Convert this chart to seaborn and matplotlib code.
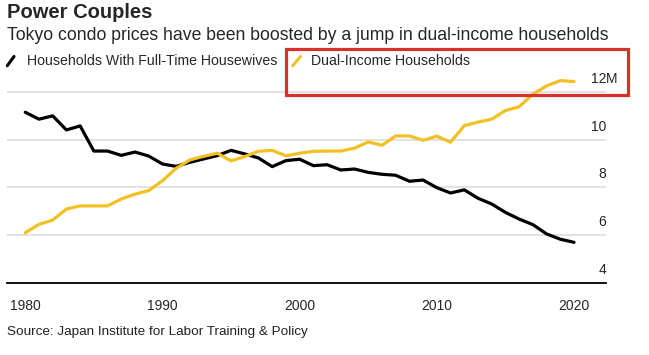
import matplotlib
matplotlib.use("Agg")
import numpy as np
import pandas as pd
import matplotlib.pyplot as plt
import matplotlib.transforms as mtransforms
from matplotlib.lines import Line2D
from matplotlib.patches import Rectangle
import seaborn as sns

# values in millions of households
years = list(range(1980, 2021))
housewives = [11.14, 10.85, 10.99, 10.40, 10.57, 9.52, 9.52, 9.34, 9.48, 9.31,
              8.98, 8.88, 9.05, 9.19, 9.33, 9.55, 9.40, 9.23, 8.87, 9.12,
              9.18, 8.91, 8.95, 8.73, 8.77, 8.63, 8.55, 8.51, 8.26, 8.31,
              7.99, 7.77, 7.90, 7.55, 7.31, 6.96, 6.68, 6.45, 6.06, 5.84, 5.71]
dual_income = [6.11, 6.46, 6.64, 7.10, 7.23, 7.23, 7.23, 7.52, 7.72, 7.87,
               8.28, 8.80, 9.15, 9.30, 9.43, 9.11, 9.29, 9.51, 9.55, 9.32,
               9.43, 9.51, 9.52, 9.52, 9.64, 9.90, 9.76, 10.15, 10.15, 9.97,
               10.14, 9.89, 10.58, 10.73, 10.85, 11.21, 11.37, 11.89, 12.24, 12.46, 12.42]
series_names = ["Households With Full-Time Housewives", "Dual-Income Households"]
x_ticks = [1980, 1990, 2000, 2010, 2020]
y_ticks = [4, 6, 8, 10, 12]
y_labels = ["4", "6", "8", "10", "12"]

colors = {series_names[0]: "#000000", series_names[1]: "#f2c022"}

df = pd.DataFrame({
    "year": years * 2,
    "households": housewives + dual_income,
    "series": [series_names[0]] * len(years) + [series_names[1]] * len(years),
})

sns.set_style("white")
plt.rcParams["font.family"] = ["Liberation Sans", "DejaVu Sans"]

W, H = 649, 355
fig = plt.figure(figsize=(W / 100, H / 100), dpi=100)
ax = fig.add_axes([7 / W, 1 - 283.3 / H, (606 - 7) / W, (283.3 - 66) / H])

sns.lineplot(data=df, x="year", y="households", hue="series", palette=colors,
             linewidth=2.3, legend=False, ax=ax, zorder=3)

ax.set_xlim(1978.67, 2022.33)
ax.set_ylim(4, 13.07)
ax.set_xticks(x_ticks)
ax.set_yticks(y_ticks)
ax.yaxis.grid(True, color="#e2e2e2", lw=1.4)
ax.xaxis.grid(False)
ax.tick_params(axis="y", left=False, labelleft=False)
ax.tick_params(axis="x", direction="out", length=5, width=1, color="black",
               labelsize=10, pad=6)
ax.set_xlabel("")
ax.set_ylabel("")
for s in ["left", "right", "top"]:
    ax.spines[s].set_visible(False)
ax.spines["bottom"].set_color("black")
ax.spines["bottom"].set_linewidth(1.3)
ax.spines["bottom"].set_zorder(4)

# y labels sit above the gridlines on the right
off = mtransforms.ScaledTranslation(0, 0.13, fig.dpi_scale_trans)
trans = mtransforms.blended_transform_factory(ax.transAxes, ax.transData) + off
for v, lab in zip(y_ticks, y_labels):
    ax.text(1.0, v, lab, transform=trans, ha="right", va="center", fontsize=10)
ax.text(1.0, 12, "M", transform=trans, ha="left", va="center", fontsize=10)

# header
fig.text(7 / W, 1 - 12 / H, "Power Couples", weight="bold", fontsize=14.5, va="center")
fig.text(7 / W, 1 - 36 / H, "Tokyo condo prices have been boosted by a jump in dual-income households",
         fontsize=12.7, va="center")

# legend
fig.add_artist(Line2D([7.3 / W, 14 / W], [1 - 65.7 / H, 1 - 56.5 / H], color="black", lw=2.2))
fig.text(27 / W, 1 - 61 / H, series_names[0], fontsize=10.2, va="center")
fig.add_artist(Line2D([292.7 / W, 300.5 / W], [1 - 65.7 / H, 1 - 56.5 / H], color=colors[series_names[1]], lw=2.2))
fig.text(310.7 / W, 1 - 61 / H, series_names[1], fontsize=10.2, va="center")

# red highlight box
fig.add_artist(Rectangle((286 / W, 1 - 95 / H), (628 - 286) / W, (95 - 49) / H,
                         transform=fig.transFigure, fill=False, ec="#d8302a", lw=2.3))

fig.text(7 / W, 1 - 332 / H, "Source: Japan Institute for Labor Training & Policy",
         fontsize=9.7, va="center", color="#222222")

fig.savefig("out.png", dpi=100)
